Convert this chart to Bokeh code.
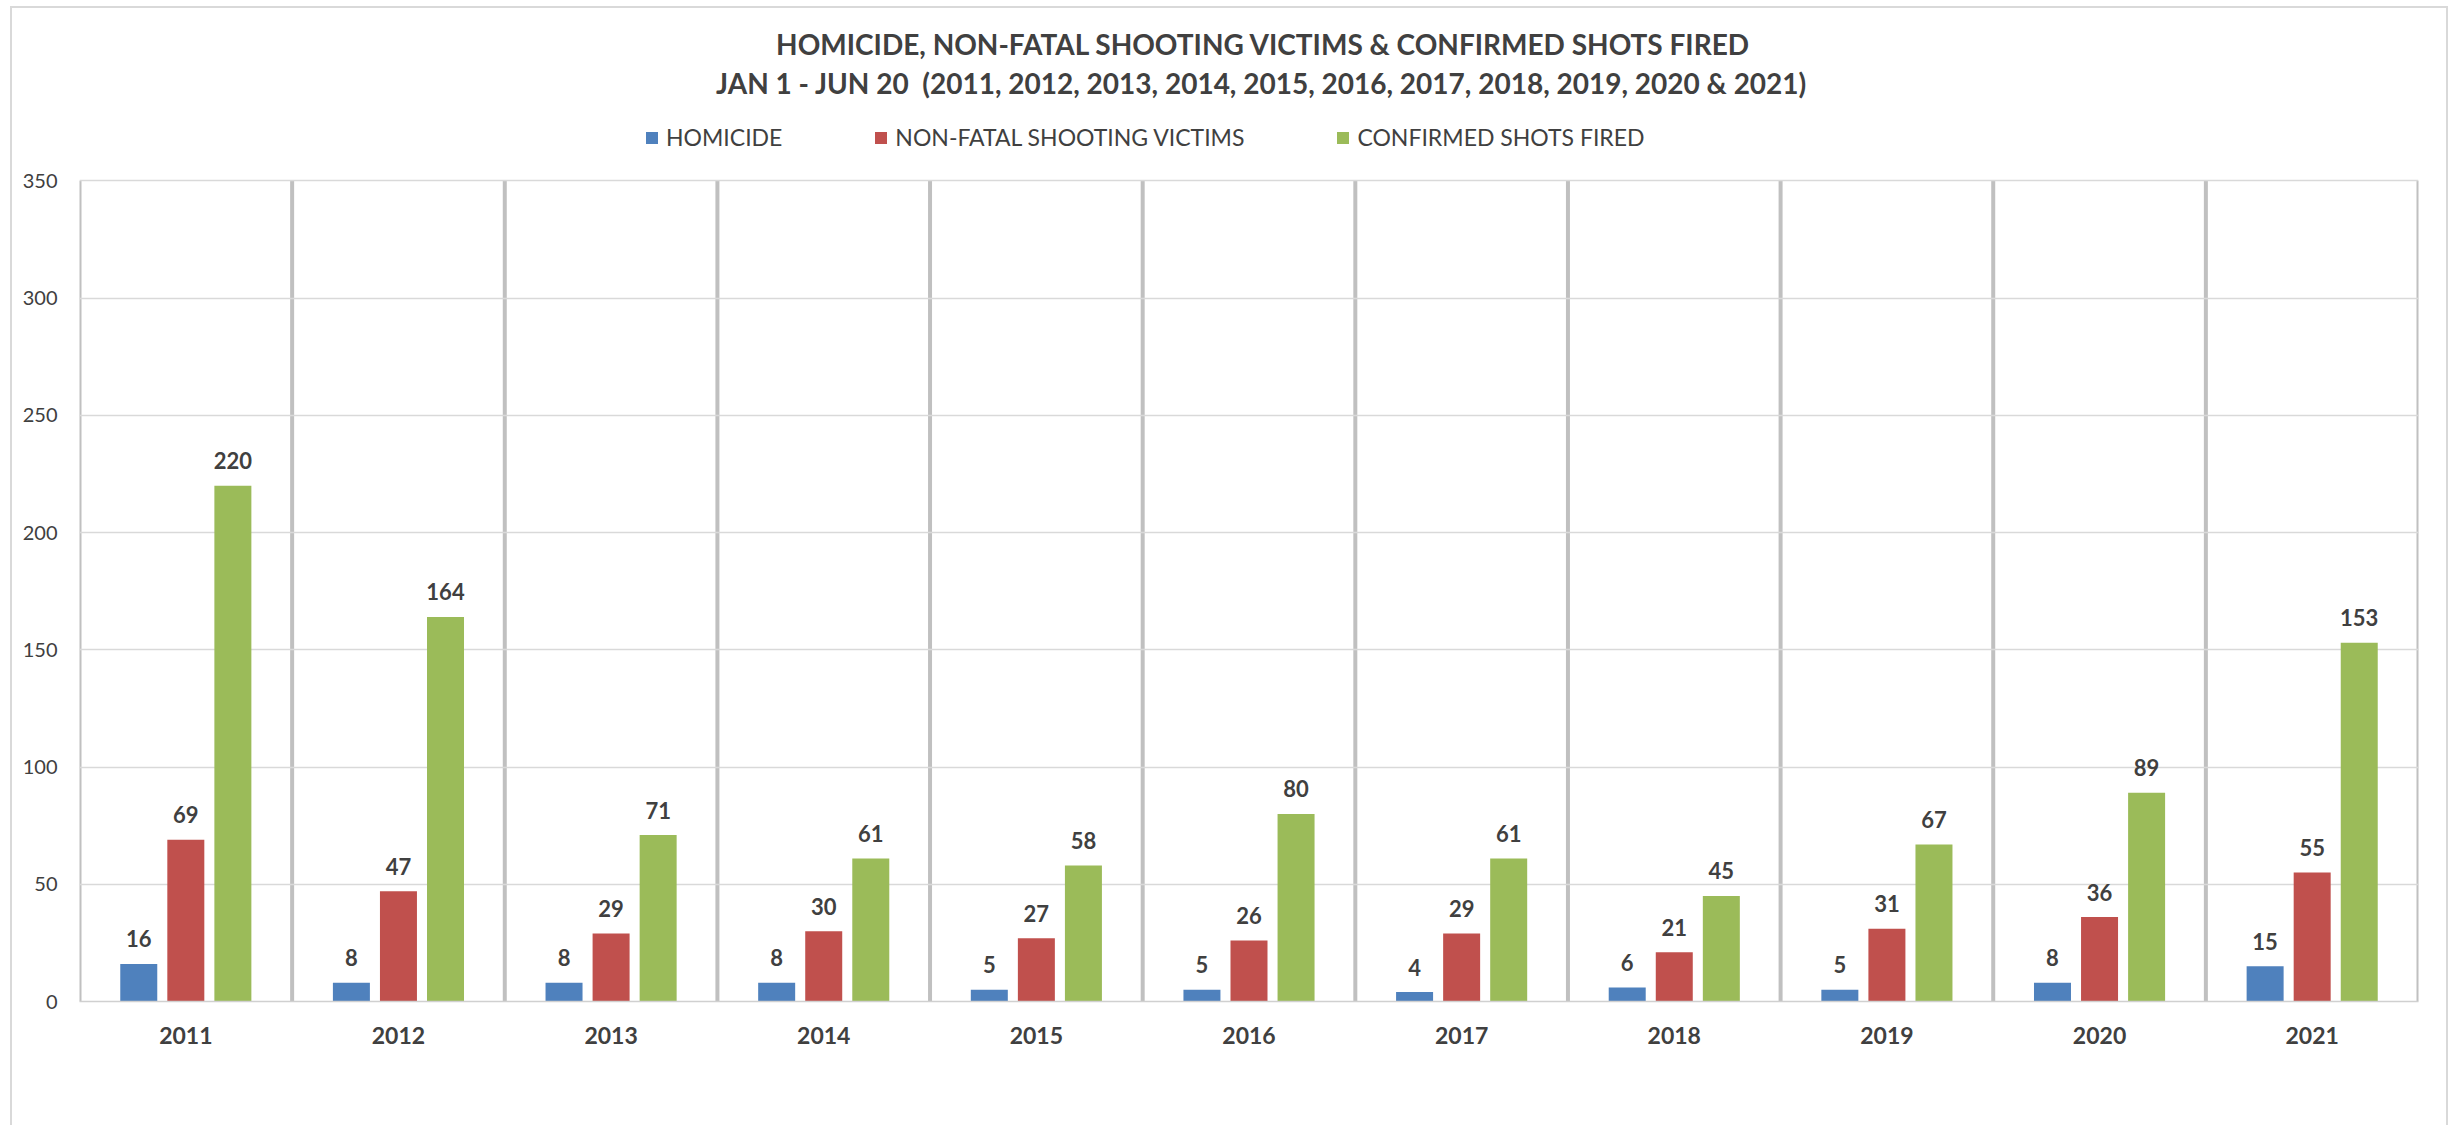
from bokeh.plotting import figure
from bokeh.models import (ColumnDataSource, FactorRange, Range1d, LabelSet, Label,
                          Legend, LegendItem, FixedTicker)
from bokeh.transform import dodge
from bokeh.core.properties import value
from bokeh.embed import file_html
from bokeh.resources import INLINE

# ---------------- data ----------------
years = ["2011", "2012", "2013", "2014", "2015", "2016", "2017", "2018", "2019", "2020", "2021"]
homicide = [16, 8, 8, 8, 5, 5, 4, 6, 5, 8, 15]
nonfatal = [69, 47, 29, 30, 27, 26, 29, 21, 31, 36, 55]
shots_fired = [220, 164, 71, 61, 58, 80, 61, 45, 67, 89, 153]
series_names = ["HOMICIDE", "NON-FATAL SHOOTING VICTIMS", "CONFIRMED SHOTS FIRED"]
series_colors = ["#4F81BD", "#C0504D", "#9BBB59"]
title_lines = ["HOMICIDE, NON-FATAL SHOOTING VICTIMS & CONFIRMED SHOTS FIRED",
               "JAN 1 - JUN 20 \u00a0(2011, 2012, 2013, 2014, 2015, 2016, 2017, 2018, 2019, 2020 & 2021)"]
y_ticks = [0, 50, 100, 150, 200, 250, 300, 350]
y_max = 350

# ---------------- layout ----------------
FONT = "Lato"
TXT = "#404040"
OX, OY = 12, 8               # page position of the canvas content (inside the chart-area border)
W, H = 2438, 1119            # total size incl. the light border
CW, CH = W - 4, H - 2        # content size (border-box: left/right/top borders of 2px)
FRAME_LEFT, FRAME_RIGHT = 79 - OX, 2414 - OX
FRAME_BOTTOM = 999 - OY      # px from top of canvas content
PX_PER_UNIT = 819 / y_max
PX_PER_CAT = (FRAME_RIGHT - FRAME_LEFT) / len(years)
y_top = FRAME_BOTTOM / PX_PER_UNIT   # frame extends to the top of the canvas

def yfig(page_y):
    return (FRAME_BOTTOM - (page_y - OY)) / PX_PER_UNIT

def xfig(page_x):
    return (page_x - OX - FRAME_LEFT) / PX_PER_CAT

p = figure(width=W, height=H, output_backend="svg", toolbar_location=None,
           x_range=FactorRange(factors=years, range_padding=0, factor_padding=0),
           y_range=Range1d(0, y_top),
           min_border_left=FRAME_LEFT, min_border_right=CW - FRAME_RIGHT, min_border_top=0,
           min_border_bottom=CH - FRAME_BOTTOM)
p.styles = {"border-left": "2px solid #d9d9d9", "border-top": "2px solid #d9d9d9",
            "border-right": "2px solid #d9d9d9", "margin-left": "10px", "margin-top": "6px"}
p.outline_line_color = None
p.background_fill_color = "white"
p.border_fill_color = "white"

# grid
p.xgrid.grid_line_color = None
p.ygrid.ticker = FixedTicker(ticks=y_ticks)
p.ygrid.grid_line_color = "#d9d9d9"
p.ygrid.grid_line_width = 1.5

# y axis
p.yaxis.ticker = FixedTicker(ticks=y_ticks)
p.yaxis.axis_line_color = None
p.yaxis.major_tick_line_color = None
p.yaxis.minor_tick_line_color = None
p.yaxis.major_tick_out = 0
p.yaxis.major_label_standoff = 22
p.yaxis.major_label_text_font = FONT
p.yaxis.major_label_text_font_size = "20px"
p.yaxis.major_label_text_color = TXT

# x axis
p.xaxis.axis_line_color = "#d0d0d0"
p.xaxis.axis_line_width = 1.5
p.xaxis.major_tick_line_color = None
p.xaxis.minor_tick_line_color = None
p.xaxis.major_tick_out = 0
p.xaxis.major_label_standoff = 25
p.xaxis.major_label_text_font = FONT
p.xaxis.major_label_text_font_size = "23px"
p.xaxis.major_label_text_font_style = "bold"
p.xaxis.major_label_text_color = TXT

# vertical separators between years (from 0 up to the top of the value axis)
n = len(years)
p.segment(x0=list(range(n + 1)), y0=[0] * (n + 1), x1=list(range(n + 1)), y1=[y_max] * (n + 1),
          line_color="#c0c0c0", line_width=4, level="underlay")

# bars
src = ColumnDataSource(dict(year=years, homicide=homicide, nonfatal=nonfatal, shots=shots_fired))
offsets = [-0.2213, 0.0, 0.2213]
cols = ["homicide", "nonfatal", "shots"]
renderers = []
for col, off, color in zip(cols, offsets, series_colors):
    r = p.vbar(x=dodge("year", off, range=p.x_range), top=col, width=0.174, source=src,
               fill_color=color, line_color=None)
    renderers.append(r)
    lab_src = ColumnDataSource(dict(year=years, val=src.data[col],
                                    txt=[str(v) for v in src.data[col]]))
    p.add_layout(LabelSet(x=dodge("year", off, range=p.x_range), y="val", text="txt",
                          source=lab_src, y_offset=25, text_align="center",
                          text_baseline="middle", text_font=value(FONT),
                          text_font_size="22px", text_font_style="bold", text_color=TXT))

# legend
legend = Legend(items=[LegendItem(label=nm, renderers=[r]) for nm, r in zip(series_names, renderers)],
                orientation="horizontal", location=(644 - OX - FRAME_LEFT, 850), padding=0, margin=0,
                spacing=91, label_standoff=7, glyph_width=15, glyph_height=15,
                label_text_font=FONT, label_text_font_size="23px", label_text_color=TXT,
                border_line_color=None, background_fill_alpha=0)
p.add_layout(legend, "center")

# titles
p.add_layout(Label(x=xfig(1261), y=yfig(43), text=title_lines[0], text_align="center",
                   text_baseline="middle", text_font=FONT, text_font_size="28px",
                   text_font_style="bold", text_color=TXT))
p.add_layout(Label(x=xfig(1259), y=yfig(82), text=title_lines[1], text_align="center",
                   text_baseline="middle", text_font=FONT, text_font_size="28px",
                   text_font_style="bold", text_color=TXT))

open("out.html", "w").write(file_html(p, INLINE))
